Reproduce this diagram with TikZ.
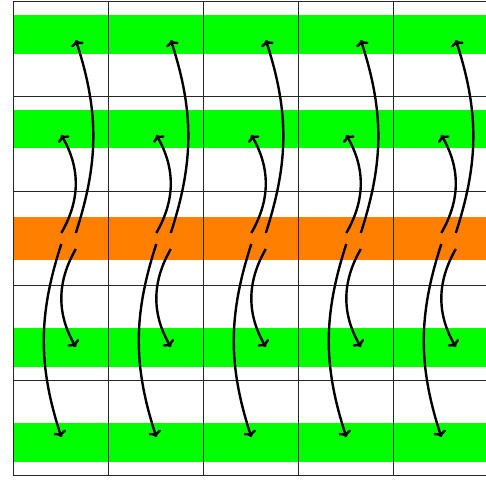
\documentclass[tikz,border=0pt]{standalone}
\usetikzlibrary{arrows.meta}
\begin{document}
\begin{tikzpicture}[x=1pt,y=1pt,
  gridline/.style={line width=0.8pt, black!85},
  arr/.style={-{To[length=6pt,width=13pt]}, line width=2.4pt}]
\useasboundingbox (0,0) rectangle (486,-479);
\clip (0,0) rectangle (486,-479);
% bands
\fill[green]  (13.3,-15)    rectangle (490,-53.5);
\fill[green]  (13.3,-110)   rectangle (490,-148);
\fill[orange] (13.3,-216.7) rectangle (490,-260);
\fill[green]  (13.3,-328)   rectangle (490,-366.7);
\fill[green]  (13.3,-422.7) rectangle (490,-461.7);
% grid
\foreach \y in {1.7,96.4,191.1,285.8,380.5,475.2}
  \draw[gridline] (13.3,-\y) -- (490,-\y);
\foreach \x in {13.3,108.3,203.3,298.3,393.3}
  \draw[gridline] (\x,-1.7) -- (\x,-475.2);
% arrows
\foreach \k in {0,...,4}{
  \pgfmathsetmacro{\xa}{13.3+95*\k+48}
  \pgfmathsetmacro{\xb}{13.3+95*\k+62.5}
  \coordinate (lus\k) at (\xb,-233);
  \coordinate (lue\k) at (\xb,-40);
  \coordinate (sus\k) at (\xa,-233);
  \coordinate (sue\k) at (\xa,-135);
  \coordinate (sds\k) at (\xb,-249);
  \coordinate (sde\k) at (\xb,-347);
  \coordinate (lds\k) at (\xa,-244);
  \coordinate (lde\k) at (\xa,-437);
  \draw[arr] (lus\k) to[bend right=18] (lue\k);
  \draw[arr] (sus\k) to[bend right=30] (sue\k);
  \draw[arr] (sds\k) to[bend right=30] (sde\k);
  \draw[arr] (lds\k) to[bend right=18] (lde\k);
}
\end{tikzpicture}
\end{document}
